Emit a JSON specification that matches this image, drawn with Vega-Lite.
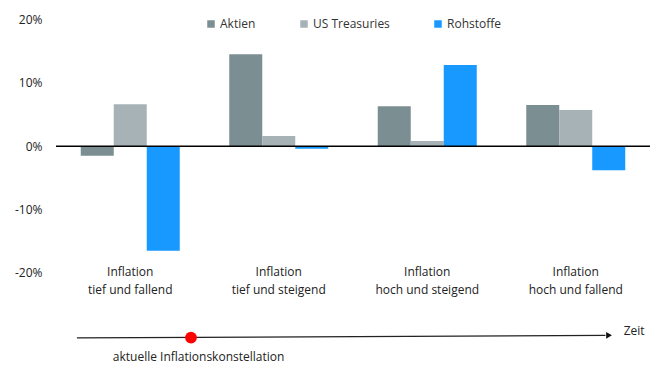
{
  "$schema": "https://vega.github.io/schema/vega-lite/v6.json",
  "width": 594,
  "height": 355,
  "padding": {"left": 14, "top": 13, "right": 16, "bottom": 0},
  "background": "white",
  "config": {
    "view": {"stroke": null},
    "font": "Open Sans",
    "text": {"font": "Open Sans"}
  },
  "datasets": {
    "bars": [
      {"regime": "tief und fallend", "serie": "Aktien", "wert": -1.5},
      {"regime": "tief und fallend", "serie": "US Treasuries", "wert": 6.6},
      {"regime": "tief und fallend", "serie": "Rohstoffe", "wert": -16.5},
      {"regime": "tief und steigend", "serie": "Aktien", "wert": 14.5},
      {"regime": "tief und steigend", "serie": "US Treasuries", "wert": 1.6},
      {"regime": "tief und steigend", "serie": "Rohstoffe", "wert": -0.4},
      {"regime": "hoch und steigend", "serie": "Aktien", "wert": 6.3},
      {"regime": "hoch und steigend", "serie": "US Treasuries", "wert": 0.8},
      {"regime": "hoch und steigend", "serie": "Rohstoffe", "wert": 12.8},
      {"regime": "hoch und fallend", "serie": "Aktien", "wert": 6.5},
      {"regime": "hoch und fallend", "serie": "US Treasuries", "wert": 5.7},
      {"regime": "hoch und fallend", "serie": "Rohstoffe", "wert": -3.8}
    ],
    "regimes": [
      {"regime": "tief und fallend", "label": "Inflation|tief und fallend"},
      {"regime": "tief und steigend", "label": "Inflation|tief und steigend"},
      {"regime": "hoch und steigend", "label": "Inflation|hoch und steigend"},
      {"regime": "hoch und fallend", "label": "Inflation|hoch und fallend"}
    ],
    "zero": [{"v": 0}],
    "arrow": [{"t": 0.141, "t2": 3.70, "v": -30.25, "v2": -29.85}],
    "arrowhead": [{"t": 3.724, "v": -29.85}],
    "dot": [{"t": 0.909, "v": -30.2}],
    "zeit": [{"t": 3.823, "v": -29.2, "text": "Zeit"}],
    "aktuell": [{"t": 0.96, "v": -33.3, "text": "aktuelle Inflationskonstellation"}]
  },
  "layer": [
    {
      "data": {"name": "bars"},
      "mark": {"type": "bar"},
      "encoding": {
        "x": {
          "field": "regime", "type": "nominal", "sort": null,
          "scale": {"paddingInner": 0.3333, "paddingOuter": 0.1667},
          "axis": null
        },
        "xOffset": {"field": "serie", "type": "nominal", "sort": ["Aktien", "US Treasuries", "Rohstoffe"], "scale": {"paddingInner": 0, "paddingOuter": 0}},
        "y": {
          "field": "wert", "type": "quantitative",
          "scale": {"domain": [-35, 21], "nice": false, "zero": false},
          "axis": {
            "values": [-20, -10, 0, 10, 20],
            "labelExpr": "datum.value + '%'",
            "grid": false, "ticks": false, "domain": false,
            "labelPadding": 14, "labelFontSize": 12, "labelColor": "#222222",
            "labelFont": "Open Sans", "title": null
          }
        },
        "color": {
          "field": "serie", "type": "nominal",
          "sort": ["Aktien", "US Treasuries", "Rohstoffe"],
          "scale": {"domain": ["Aktien", "US Treasuries", "Rohstoffe"], "range": ["#7b8e92", "#a7b2b7", "#1899ff"]},
          "legend": {
            "title": null, "orient": "none", "direction": "horizontal", "columns": 3,
            "legendX": 149, "legendY": 5, "columnPadding": 42,
            "symbolType": "square", "symbolSize": 56, "symbolStrokeWidth": 0, "symbolOpacity": 1,
            "labelOffset": 3, "labelFontSize": 12, "labelColor": "#333333", "labelFont": "Open Sans"
          }
        }
      }
    },
    {
      "data": {"name": "zero"},
      "mark": {"type": "rule", "color": "#000000", "strokeWidth": 1.5},
      "encoding": {"y": {"field": "v", "type": "quantitative"}}
    },
    {
      "data": {"name": "regimes"},
      "mark": {"type": "text", "lineBreak": "|", "baseline": "top", "lineHeight": 18, "fontSize": 12, "color": "#222222", "font": "Open Sans"},
      "encoding": {
        "x": {"field": "regime", "type": "nominal", "sort": null, "scale": {"paddingInner": 0.3333, "paddingOuter": 0.1667}, "axis": null},
        "y": {"datum": -19.0, "type": "quantitative"},
        "text": {"field": "label"}
      }
    },
    {
      "data": {"name": "arrow"},
      "mark": {"type": "rule", "color": "#222222", "strokeWidth": 1.3},
      "encoding": {
        "x": {"field": "t", "type": "quantitative", "scale": {"domain": [0, 4], "nice": false, "zero": false}, "axis": null},
        "x2": {"field": "t2"},
        "y": {"field": "v", "type": "quantitative"},
        "y2": {"field": "v2"}
      }
    },
    {
      "data": {"name": "arrowhead"},
      "mark": {"type": "point", "shape": "triangle-right", "filled": true, "color": "#111111", "size": 45, "opacity": 1},
      "encoding": {
        "x": {"field": "t", "type": "quantitative", "scale": {"domain": [0, 4], "nice": false, "zero": false}, "axis": null},
        "y": {"field": "v", "type": "quantitative"}
      }
    },
    {
      "data": {"name": "dot"},
      "mark": {"type": "circle", "color": "#ff0000", "size": 140, "opacity": 1},
      "encoding": {
        "x": {"field": "t", "type": "quantitative", "scale": {"domain": [0, 4], "nice": false, "zero": false}, "axis": null},
        "y": {"field": "v", "type": "quantitative"}
      }
    },
    {
      "data": {"name": "zeit"},
      "mark": {"type": "text", "align": "left", "baseline": "middle", "fontSize": 12, "color": "#222222", "font": "Open Sans"},
      "encoding": {
        "x": {"field": "t", "type": "quantitative", "scale": {"domain": [0, 4], "nice": false, "zero": false}, "axis": null},
        "y": {"field": "v", "type": "quantitative"},
        "text": {"field": "text"}
      }
    },
    {
      "data": {"name": "aktuell"},
      "mark": {"type": "text", "align": "center", "baseline": "middle", "fontSize": 12, "color": "#222222", "font": "Open Sans"},
      "encoding": {
        "x": {"field": "t", "type": "quantitative", "scale": {"domain": [0, 4], "nice": false, "zero": false}, "axis": null},
        "y": {"field": "v", "type": "quantitative"},
        "text": {"field": "text"}
      }
    }
  ],
  "resolve": {"scale": {"x": "independent", "xOffset": "independent"}}
}
